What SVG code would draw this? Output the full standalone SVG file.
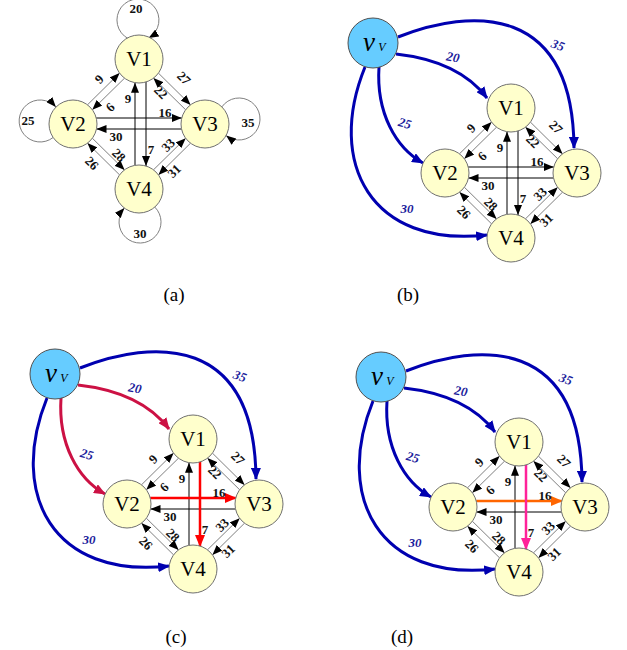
<svg xmlns="http://www.w3.org/2000/svg" width="627" height="650" viewBox="0 0 627 650">
<style>
.nd{fill:#FFFFCC;stroke:#707070;stroke-width:1}
.vv{fill:#66CCFF;stroke:#505050;stroke-width:1}
.nl{font-family:"Liberation Serif","Times New Roman","DejaVu Serif",serif;font-size:21px;text-anchor:middle;fill:#000}
.el{font-family:"Liberation Serif","Times New Roman","DejaVu Serif",serif;font-size:13px;font-weight:bold;text-anchor:middle;fill:#111}
.bl{font-family:"Liberation Serif","Times New Roman","DejaVu Serif",serif;font-size:13px;font-weight:bold;font-style:italic;text-anchor:middle;fill:#1c1c9c}
.cap{font-family:"Liberation Serif","Times New Roman","DejaVu Serif",serif;font-size:19px;text-anchor:middle;fill:#000}
.vt{font-family:"Liberation Serif","Times New Roman","DejaVu Serif",serif;font-style:italic;fill:#000;text-anchor:middle}
.g{stroke:#808080;stroke-width:1;fill:none;marker-end:url(#ak)}
.k{stroke:#000;stroke-width:1;fill:none;marker-end:url(#ak)}
.lp{stroke:#808080;stroke-width:1;fill:none;marker-end:url(#ak)}
.bu{stroke:#0000B0;stroke-width:3;fill:none;marker-end:url(#ab)}
.cr{stroke:#CC1144;stroke-width:3;fill:none;marker-end:url(#ac)}
.rd{stroke:#FF0000;stroke-width:2.5;fill:none;marker-end:url(#ar)}
.or{stroke:#FF6600;stroke-width:2.5;fill:none;marker-end:url(#ao)}
.mg{stroke:#FF2299;stroke-width:2.5;fill:none;marker-end:url(#am)}
</style>
<defs>
<marker id="ak" markerUnits="userSpaceOnUse" markerWidth="10" markerHeight="8" viewBox="0 0 10 8" refX="10" refY="4" orient="auto"><path d="M0,0 L10,4 L0,8 z" fill="#000"/></marker>
<marker id="ab" markerUnits="userSpaceOnUse" markerWidth="12" markerHeight="10" viewBox="0 0 12 10" refX="11" refY="5" orient="auto"><path d="M0,0 L12,5 L0,10 z" fill="#0000B0"/></marker>
<marker id="ac" markerUnits="userSpaceOnUse" markerWidth="12" markerHeight="10" viewBox="0 0 12 10" refX="11" refY="5" orient="auto"><path d="M0,0 L12,5 L0,10 z" fill="#CC1144"/></marker>
<marker id="ar" markerUnits="userSpaceOnUse" markerWidth="12" markerHeight="10" viewBox="0 0 12 10" refX="11" refY="5" orient="auto"><path d="M0,0 L12,5 L0,10 z" fill="#FF0000"/></marker>
<marker id="ao" markerUnits="userSpaceOnUse" markerWidth="12" markerHeight="10" viewBox="0 0 12 10" refX="11" refY="5" orient="auto"><path d="M0,0 L12,5 L0,10 z" fill="#FF6600"/></marker>
<marker id="am" markerUnits="userSpaceOnUse" markerWidth="12" markerHeight="10" viewBox="0 0 12 10" refX="11" refY="5" orient="auto"><path d="M0,0 L12,5 L0,10 z" fill="#FF2299"/></marker>
</defs>
<rect width="627" height="650" fill="#fff"/>

<!-- Panel (a) -->
<g id="panel-a" transform="translate(139,124)">
 <g id="a-connectors">
  <path class="lp" d="M-10.6,-85.3 A21,21 0 1,1 9.6,-85.9"/>
  <path class="lp" d="M-85.9,13.5 A21,21 0 1,1 -83.1,-16.9"/>
  <path class="lp" d="M82.85,-17.1 A21,21 0 1,1 87.1,11.55"/>
  <path class="lp" d="M15.8,83.1 A21,21 0 1,1 -14.6,84.0"/>
  <path class="g" d="M-51.6,-19.1 L-19.4,-50.9"/>
  <path class="g" d="M-14.4,-45.9 L-46.7,-14.2"/>
  <path class="g" d="M19.4,-50.9 L51.6,-19.1"/>
  <path class="g" d="M46.7,-14.2 L14.4,-45.9"/>
  <path class="g" d="M-46.7,14.2 L-14.4,45.9"/>
  <path class="g" d="M-19.4,50.9 L-51.6,19.1"/>
  <path class="g" d="M14.4,45.9 L46.7,14.2"/>
  <path class="g" d="M51.6,19.1 L19.4,50.9"/>
  <path class="k" d="M-42.8,-6 L42.8,-6"/>
  <path class="k" d="M42.5,5 L-42.5,5"/>
  <path class="k" d="M-4,41.3 L-4,-41.3"/>
  <path class="k" d="M7,-42 L7,42"/>
  <text class="el" x="-3" y="-116" dy="0.35em">20</text>
  <text class="el" x="-111" y="-4" dy="0.35em">25</text>
  <text class="el" x="109" y="-2" dy="0.35em">35</text>
  <text class="el" x="1" y="109" dy="0.35em">30</text>
  <text class="el" transform="translate(-40,-45) rotate(-45)" dy="0.35em">9</text>
  <text class="el" transform="translate(-29,-17) rotate(-45)" dy="0.35em">6</text>
  <text class="el" transform="translate(45,-46) rotate(45)" dy="0.35em">27</text>
  <text class="el" transform="translate(22,-32) rotate(45)" dy="0.35em">22</text>
  <text class="el" x="26" y="-12" dy="0.35em">16</text>
  <text class="el" x="-23" y="12" dy="0.35em">30</text>
  <text class="el" x="-11" y="-26" dy="0.35em">9</text>
  <text class="el" x="12" y="25" dy="0.35em">7</text>
  <text class="el" transform="translate(-20,31) rotate(45)" dy="0.35em">28</text>
  <text class="el" transform="translate(-47,39) rotate(45)" dy="0.35em">26</text>
  <text class="el" transform="translate(29,21) rotate(-45)" dy="0.35em">33</text>
  <text class="el" transform="translate(35,47) rotate(-45)" dy="0.35em">31</text>
 </g>
 <g id="a-V1"><circle class="nd" cx="0" cy="-65" r="24"/><text class="nl" x="0" y="-58">V1</text></g>
 <g id="a-V2"><circle class="nd" cx="-66" cy="0" r="24"/><text class="nl" x="-66" y="7">V2</text></g>
 <g id="a-V3"><circle class="nd" cx="66" cy="0" r="24"/><text class="nl" x="66" y="7">V3</text></g>
 <g id="a-V4"><circle class="nd" cx="0" cy="65" r="24"/><text class="nl" x="0" y="72">V4</text></g>
</g>
<text class="cap" x="174" y="301">(a)</text>

<!-- Panel (b) -->
<g id="panel-b" transform="translate(511,173)">
 <g id="b-connectors">
  <path class="bu" d="M-115,-119 Q-52,-112 -24,-75"/>
  <path class="bu" d="M-113,-136 C-40,-165 62,-170 63,-25"/>
  <path class="bu" d="M-132,-106 C-135,-60 -115,-25 -88,-10"/>
  <path class="bu" d="M-146,-106 C-185,-10 -140,75 -24,62"/>
  <text class="bl" transform="translate(-58,-116) rotate(10)" dy="0.35em">20</text>
  <text class="bl" transform="translate(47,-128) rotate(20)" dy="0.35em">35</text>
  <text class="bl" transform="translate(-106,-50) rotate(15)" dy="0.35em">25</text>
  <text class="bl" x="-104" y="35" dy="0.35em">30</text>
  <path class="g" d="M-51.6,-19.1 L-19.4,-50.9"/>
  <path class="g" d="M-14.4,-45.9 L-46.7,-14.2"/>
  <path class="g" d="M19.4,-50.9 L51.6,-19.1"/>
  <path class="g" d="M46.7,-14.2 L14.4,-45.9"/>
  <path class="g" d="M-46.7,14.2 L-14.4,45.9"/>
  <path class="g" d="M-19.4,50.9 L-51.6,19.1"/>
  <path class="g" d="M14.4,45.9 L46.7,14.2"/>
  <path class="g" d="M51.6,19.1 L19.4,50.9"/>
  <path class="k" d="M-42.8,-6 L42.8,-6"/>
  <path class="k" d="M42.5,5 L-42.5,5"/>
  <path class="k" d="M-4,41.3 L-4,-41.3"/>
  <path class="k" d="M7,-42 L7,42"/>
  <text class="el" transform="translate(-40,-45) rotate(-45)" dy="0.35em">9</text>
  <text class="el" transform="translate(-29,-17) rotate(-45)" dy="0.35em">6</text>
  <text class="el" transform="translate(45,-46) rotate(45)" dy="0.35em">27</text>
  <text class="el" transform="translate(22,-32) rotate(45)" dy="0.35em">22</text>
  <text class="el" x="26" y="-12" dy="0.35em">16</text>
  <text class="el" x="-23" y="12" dy="0.35em">30</text>
  <text class="el" x="-11" y="-26" dy="0.35em">9</text>
  <text class="el" x="12" y="25" dy="0.35em">7</text>
  <text class="el" transform="translate(-20,31) rotate(45)" dy="0.35em">28</text>
  <text class="el" transform="translate(-47,39) rotate(45)" dy="0.35em">26</text>
  <text class="el" transform="translate(29,21) rotate(-45)" dy="0.35em">33</text>
  <text class="el" transform="translate(35,47) rotate(-45)" dy="0.35em">31</text>
 </g>
 <g id="b-vV"><circle class="vv" cx="-138" cy="-130" r="25"/><text class="vt" x="-142" y="-122" font-size="27">v</text><text class="vt" x="-129" y="-122" font-size="12">V</text></g>
 <g id="b-V1"><circle class="nd" cx="0" cy="-65" r="24"/><text class="nl" x="0" y="-58">V1</text></g>
 <g id="b-V2"><circle class="nd" cx="-66" cy="0" r="24"/><text class="nl" x="-66" y="7">V2</text></g>
 <g id="b-V3"><circle class="nd" cx="66" cy="0" r="24"/><text class="nl" x="66" y="7">V3</text></g>
 <g id="b-V4"><circle class="nd" cx="0" cy="65" r="24"/><text class="nl" x="0" y="72">V4</text></g>
</g>
<text class="cap" x="408" y="301">(b)</text>

<!-- Panel (c) -->
<g id="panel-c" transform="translate(193,504)">
 <g id="c-connectors">
  <path class="cr" d="M-115,-119 Q-52,-112 -24,-75"/>
  <path class="bu" d="M-113,-136 C-40,-165 62,-170 63,-25"/>
  <path class="cr" d="M-132,-106 C-135,-60 -115,-25 -88,-10"/>
  <path class="bu" d="M-146,-106 C-185,-10 -140,75 -24,62"/>
  <text class="bl" transform="translate(-58,-116) rotate(10)" dy="0.35em">20</text>
  <text class="bl" transform="translate(47,-128) rotate(20)" dy="0.35em">35</text>
  <text class="bl" transform="translate(-106,-50) rotate(15)" dy="0.35em">25</text>
  <text class="bl" x="-104" y="35" dy="0.35em">30</text>
  <path class="g" d="M-51.6,-19.1 L-19.4,-50.9"/>
  <path class="g" d="M-14.4,-45.9 L-46.7,-14.2"/>
  <path class="g" d="M19.4,-50.9 L51.6,-19.1"/>
  <path class="g" d="M46.7,-14.2 L14.4,-45.9"/>
  <path class="g" d="M-46.7,14.2 L-14.4,45.9"/>
  <path class="g" d="M-19.4,50.9 L-51.6,19.1"/>
  <path class="g" d="M14.4,45.9 L46.7,14.2"/>
  <path class="g" d="M51.6,19.1 L19.4,50.9"/>
  <path class="k" d="M42.5,5 L-42.5,5"/>
  <path class="k" d="M-4,41.3 L-4,-41.3"/>
  <path class="rd" d="M-42.8,-6 L42.8,-6"/>
  <path class="rd" d="M7,-42 L7,42"/>
  <text class="el" transform="translate(-40,-45) rotate(-45)" dy="0.35em">9</text>
  <text class="el" transform="translate(-29,-17) rotate(-45)" dy="0.35em">6</text>
  <text class="el" transform="translate(45,-46) rotate(45)" dy="0.35em">27</text>
  <text class="el" transform="translate(22,-32) rotate(45)" dy="0.35em">22</text>
  <text class="el" x="26" y="-12" dy="0.35em">16</text>
  <text class="el" x="-23" y="12" dy="0.35em">30</text>
  <text class="el" x="-11" y="-26" dy="0.35em">9</text>
  <text class="el" x="12" y="25" dy="0.35em">7</text>
  <text class="el" transform="translate(-20,31) rotate(45)" dy="0.35em">28</text>
  <text class="el" transform="translate(-47,39) rotate(45)" dy="0.35em">26</text>
  <text class="el" transform="translate(29,21) rotate(-45)" dy="0.35em">33</text>
  <text class="el" transform="translate(35,47) rotate(-45)" dy="0.35em">31</text>
 </g>
 <g id="c-vV"><circle class="vv" cx="-138" cy="-130" r="25"/><text class="vt" x="-142" y="-122" font-size="27">v</text><text class="vt" x="-129" y="-122" font-size="12">V</text></g>
 <g id="c-V1"><circle class="nd" cx="0" cy="-65" r="24"/><text class="nl" x="0" y="-58">V1</text></g>
 <g id="c-V2"><circle class="nd" cx="-66" cy="0" r="24"/><text class="nl" x="-66" y="7">V2</text></g>
 <g id="c-V3"><circle class="nd" cx="66" cy="0" r="24"/><text class="nl" x="66" y="7">V3</text></g>
 <g id="c-V4"><circle class="nd" cx="0" cy="65" r="24"/><text class="nl" x="0" y="72">V4</text></g>
</g>
<text class="cap" x="176" y="643">(c)</text>

<!-- Panel (d) -->
<g id="panel-d" transform="translate(519,507)">
 <g id="d-connectors">
  <path class="bu" d="M-115,-119 Q-52,-112 -24,-75"/>
  <path class="bu" d="M-113,-136 C-40,-165 62,-170 63,-25"/>
  <path class="bu" d="M-132,-106 C-135,-60 -115,-25 -88,-10"/>
  <path class="bu" d="M-146,-106 C-185,-10 -140,75 -24,62"/>
  <text class="bl" transform="translate(-58,-116) rotate(10)" dy="0.35em">20</text>
  <text class="bl" transform="translate(47,-128) rotate(20)" dy="0.35em">35</text>
  <text class="bl" transform="translate(-106,-50) rotate(15)" dy="0.35em">25</text>
  <text class="bl" x="-104" y="35" dy="0.35em">30</text>
  <path class="g" d="M-51.6,-19.1 L-19.4,-50.9"/>
  <path class="g" d="M-14.4,-45.9 L-46.7,-14.2"/>
  <path class="g" d="M19.4,-50.9 L51.6,-19.1"/>
  <path class="g" d="M46.7,-14.2 L14.4,-45.9"/>
  <path class="g" d="M-46.7,14.2 L-14.4,45.9"/>
  <path class="g" d="M-19.4,50.9 L-51.6,19.1"/>
  <path class="g" d="M14.4,45.9 L46.7,14.2"/>
  <path class="g" d="M51.6,19.1 L19.4,50.9"/>
  <path class="k" d="M42.5,5 L-42.5,5"/>
  <path class="k" d="M-4,41.3 L-4,-41.3"/>
  <path class="or" d="M-42.8,-6 L42.8,-6"/>
  <path class="mg" d="M7,-42 L7,42"/>
  <text class="el" transform="translate(-40,-45) rotate(-45)" dy="0.35em">9</text>
  <text class="el" transform="translate(-29,-17) rotate(-45)" dy="0.35em">6</text>
  <text class="el" transform="translate(45,-46) rotate(45)" dy="0.35em">27</text>
  <text class="el" transform="translate(22,-32) rotate(45)" dy="0.35em">22</text>
  <text class="el" x="26" y="-12" dy="0.35em">16</text>
  <text class="el" x="-23" y="12" dy="0.35em">30</text>
  <text class="el" x="-11" y="-26" dy="0.35em">9</text>
  <text class="el" x="12" y="25" dy="0.35em">7</text>
  <text class="el" transform="translate(-20,31) rotate(45)" dy="0.35em">28</text>
  <text class="el" transform="translate(-47,39) rotate(45)" dy="0.35em">26</text>
  <text class="el" transform="translate(29,21) rotate(-45)" dy="0.35em">33</text>
  <text class="el" transform="translate(35,47) rotate(-45)" dy="0.35em">31</text>
 </g>
 <g id="d-vV"><circle class="vv" cx="-138" cy="-130" r="25"/><text class="vt" x="-142" y="-122" font-size="27">v</text><text class="vt" x="-129" y="-122" font-size="12">V</text></g>
 <g id="d-V1"><circle class="nd" cx="0" cy="-65" r="24"/><text class="nl" x="0" y="-58">V1</text></g>
 <g id="d-V2"><circle class="nd" cx="-66" cy="0" r="24"/><text class="nl" x="-66" y="7">V2</text></g>
 <g id="d-V3"><circle class="nd" cx="66" cy="0" r="24"/><text class="nl" x="66" y="7">V3</text></g>
 <g id="d-V4"><circle class="nd" cx="0" cy="65" r="24"/><text class="nl" x="0" y="72">V4</text></g>
</g>
<text class="cap" x="402" y="643">(d)</text>
</svg>
